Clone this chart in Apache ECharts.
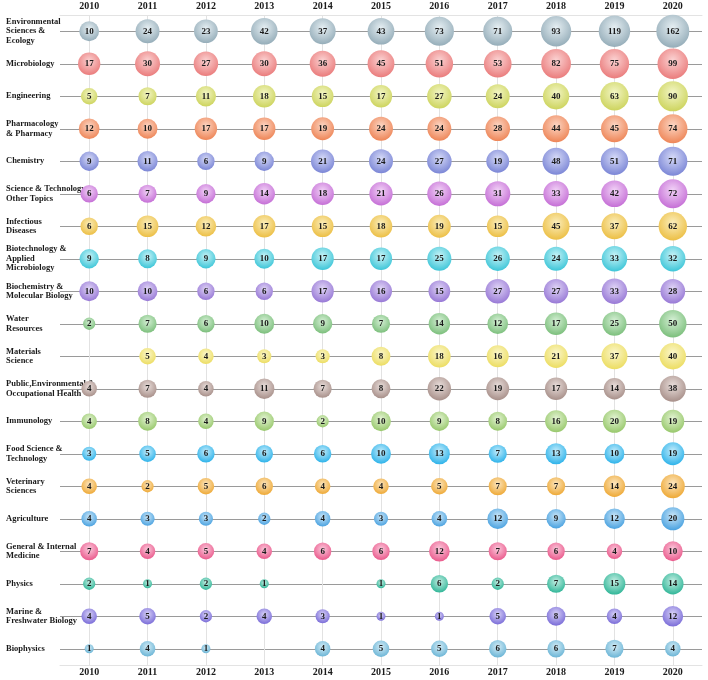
<!DOCTYPE html>
<html>
<head>
<meta charset="utf-8">
<script src="https://cdn.jsdelivr.net/npm/echarts@6/dist/echarts.min.js"></script>
<style>
  html, body { margin: 0; padding: 0; background: #fff; }
  #bubble_grid { width: 708px; height: 680px; }
</style>
</head>
<body>
<div id="bubble_grid"></div>
<script>
// years on the x axis
var years = ['2010', '2011', '2012', '2013', '2014', '2015', '2016', '2017', '2018', '2019', '2020'];

// subject labels, top to bottom
var subjects = [
  'Environmental\nSciences &\nEcology',
  'Microbiology',
  'Engineering',
  'Pharmacology\n& Pharmacy',
  'Chemistry',
  'Science & Technology-\nOther Topics',
  'Infectious\nDiseases',
  'Biotechnology &\nApplied\nMicrobiology',
  'Biochemistry &\nMolecular Biology',
  'Water\nResources',
  'Materials\nScience',
  'Public,Environmental &\nOccupational Health',
  'Immunology',
  'Food Science &\nTechnology',
  'Veterinary\nSciences',
  'Agriculture',
  'General & Internal\nMedicine',
  'Physics',
  'Marine &\nFreshwater Biology',
  'Biophysics'
];

// paper counts per year (null = no bubble)
var envEcology   = [10, 24, 23, 42, 37, 43, 73, 71, 93, 119, 162];
var microbiology = [17, 30, 27, 30, 36, 45, 51, 53, 82, 75, 99];
var engineering  = [5, 7, 11, 18, 15, 17, 27, 24, 40, 63, 90];
var pharmacology = [12, 10, 17, 17, 19, 24, 24, 28, 44, 45, 74];
var chemistry    = [9, 11, 6, 9, 21, 24, 27, 19, 48, 51, 71];
var sciTechOther = [6, 7, 9, 14, 18, 21, 26, 31, 33, 42, 72];
var infectious   = [6, 15, 12, 17, 15, 18, 19, 15, 45, 37, 62];
var biotech      = [9, 8, 9, 10, 17, 17, 25, 26, 24, 33, 32];
var biochemistry = [10, 10, 6, 6, 17, 16, 15, 27, 27, 33, 28];
var water        = [2, 7, 6, 10, 9, 7, 14, 12, 17, 25, 50];
var materials    = [null, 5, 4, 3, 3, 8, 18, 16, 21, 37, 40];
var publicHealth = [4, 7, 4, 11, 7, 8, 22, 19, 17, 14, 38];
var immunology   = [4, 8, 4, 9, 2, 10, 9, 8, 16, 20, 19];
var foodScience  = [3, 5, 6, 6, 6, 10, 13, 7, 13, 10, 19];
var veterinary   = [4, 2, 5, 6, 4, 4, 5, 7, 7, 14, 24];
var agriculture  = [4, 3, 3, 2, 4, 3, 4, 12, 9, 12, 20];
var generalMed   = [7, 4, 5, 4, 6, 6, 12, 7, 6, 4, 10];
var physics      = [2, 1, 2, 1, null, 1, 6, 2, 7, 15, 14];
var marine       = [4, 5, 2, 4, 3, 1, 1, 5, 8, 4, 12];
var biophysics   = [1, 4, 1, null, 4, 5, 5, 6, 6, 7, 4];

var rows = [envEcology, microbiology, engineering, pharmacology, chemistry, sciTechOther,
  infectious, biotech, biochemistry, water, materials, publicHealth, immunology,
  foodScience, veterinary, agriculture, generalMed, physics, marine, biophysics];

// row colours [highlight, base]
var rowColors = [
  ['#e6eff3', '#95adb9'],
  ['#fbd3d3', '#ea7c7c'],
  ['#f3f6c6', '#cdd45e'],
  ['#fcd6c4', '#ee8658'],
  ['#d6daf7', '#7b86d6'],
  ['#f2d3f7', '#c56fd6'],
  ['#fbeebc', '#ecbf45'],
  ['#c8f3f7', '#3ec6d8'],
  ['#e0d5f6', '#9879d6'],
  ['#d6f0d6', '#7cbf7c'],
  ['#fbf7cc', '#ecdd62'],
  ['#e9dedb', '#a8908a'],
  ['#e4f4d4', '#98c86c'],
  ['#c4ecfb', '#2eb3ea'],
  ['#fce6c0', '#eea936'],
  ['#cae6f8', '#4aa2e0'],
  ['#fbc9dc', '#ea5a8c'],
  ['#c4eee3', '#31b698'],
  ['#d9d3f7', '#7a6cd8'],
  ['#d4ecf6', '#6bb5d6']
];

var serif = '"Liberation Serif", "Times New Roman", serif';

const myChart = echarts.init(document.getElementById('bubble_grid'));

var series = rows.map(function (vals, r) {
  var pts = [];
  vals.forEach(function (v, i) {
    if (v != null) pts.push([i, r, v]);
  });
  return {
    type: 'scatter',
    data: pts,
    symbolSize: function (d) {
      return 9 + 4.7 * Math.log(d[2]);
    },
    itemStyle: {
      color: {
        type: 'radial', x: 0.5, y: 0.38, r: 0.62,
        colorStops: [
          { offset: 0, color: rowColors[r][0] },
          { offset: 1, color: rowColors[r][1] }
        ]
      },
      opacity: 1
    },
    label: {
      show: true,
      position: 'inside',
      formatter: function (p) { return p.value[2]; },
      color: '#1a1a1a',
      fontFamily: serif,
      fontWeight: 'bold',
      fontSize: 9
    },
    emphasis: { disabled: true },
    z: 3
  };
});

const option = {
  animation: false,
  grid: { left: 60, right: 6, top: 15, bottom: 15 },
  xAxis: [
    {
      type: 'category',
      data: years,
      position: 'top',
      boundaryGap: true,
      axisLine: { lineStyle: { color: '#e3e3e3' } },
      axisTick: { show: false },
      axisLabel: { color: '#1a1a1a', fontFamily: serif, fontWeight: 'bold', fontSize: 10, margin: 4 },
      splitLine: { show: true, alignWithLabel: true, lineStyle: { color: '#e2e2e2', width: 1 } }
    },
    {
      type: 'category',
      data: years,
      position: 'bottom',
      boundaryGap: true,
      axisLine: { lineStyle: { color: '#e3e3e3' } },
      axisTick: { show: false },
      axisLabel: { color: '#1a1a1a', fontFamily: serif, fontWeight: 'bold', fontSize: 10, margin: 2 },
      splitLine: { show: false }
    }
  ],
  yAxis: {
    type: 'category',
    data: subjects,
    inverse: true,
    boundaryGap: true,
    axisLine: { show: false },
    axisTick: { show: false },
    axisLabel: {
      color: '#1a1a1a',
      fontFamily: serif,
      fontWeight: 'bold',
      fontSize: 8.5,
      lineHeight: 9.5,
      align: 'left',
      margin: 54
    },
    splitLine: { show: true, alignWithLabel: true, lineStyle: { color: '#9a9a9a', width: 1 } }
  },
  series: series
};

myChart.setOption(option);
</script>
</body>
</html>
